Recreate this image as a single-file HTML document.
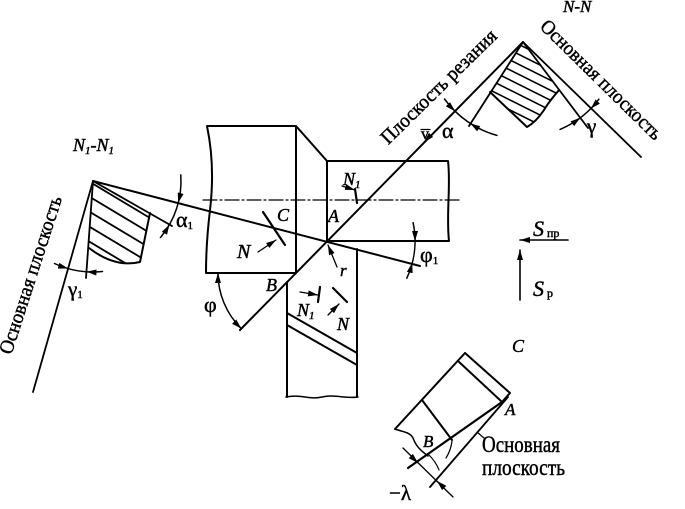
<!DOCTYPE html>
<html><head><meta charset="utf-8"><style>
html,body{margin:0;padding:0;background:#fff;}
svg{display:block;}
text{font-family:"Liberation Serif","DejaVu Serif",serif;fill:#000;stroke:#000;stroke-width:0.45;}
.i{font-style:italic;}
</style></head><body>
<svg width="685" height="509" viewBox="0 0 685 509" xmlns="http://www.w3.org/2000/svg">
<defs>
<marker id="ah" viewBox="0 0 10 6" refX="10" refY="3" markerWidth="10" markerHeight="6" markerUnits="userSpaceOnUse" orient="auto"><path d="M0,0 L10,3 L0,6 Z" fill="#000" stroke="none"/></marker>
<clipPath id="c1"><path d="M93,181 L150,213 L140,262 Q115,268 89,248 Z"/></clipPath>
<clipPath id="c2"><path d="M523,42 L559,90 Q548,103 544,110 Q536,122 527,127 L490,92 Z"/></clipPath>
</defs>
<g fill="none" stroke="#000" stroke-width="2" stroke-linecap="round" stroke-linejoin="round">
<path d="M207,126 C213,155 213,185 210,210 C207,235 206,255 206,273 L296,273 L296,126 Z"/>
<path d="M296,126 L327,161"/>
<path d="M327,161 L448,161 C451,185 446,215 449,241 L327,241 Z"/>
<path d="M203,200 L462,200" stroke-width="1.2" stroke-dasharray="14,3,2,3"/>
<path d="M287,282 L287,397 M357,249 L357,397"/>
<path d="M286,397 C300,394 310,400 322,397 C335,394 345,399 358,397" stroke-width="1.5"/>
<path d="M287,313 L357,353 M287,325 L357,365"/>
<path d="M240,330 L523,42"/>
<path d="M431,135 L424,142" marker-end="url(#ah)" stroke-width="1.2"/>
<path d="M421,129.5 L430,129.5" stroke-width="1.3"/>
<path d="M93,181 L420,266"/>

<path d="M93,181 L33,392" stroke-width="1.8"/>
<path d="M93,181 L86,278" stroke-width="1.8"/>
<path d="M93,181 L172,226" stroke-width="1.8"/>
<path d="M150,213 L140,262 Q115,268 89,248"/>
<g clip-path="url(#c1)" stroke-width="1.8">
<path d="M70,170 L170,230 M70,185 L170,245 M70,200 L170,260 M70,215 L170,275 M70,230 L170,290 M70,245 L170,305"/>
</g>
<path d="M180.8,174.9 A88,88 0 0 1 160.4,237.6" stroke-width="1.5"/>
<path d="M180.4,194.2 L178.2,202.9" marker-end="url(#ah)" stroke-width="1.2"/>
<path d="M164.9,232.4 L169.4,224.6" marker-end="url(#ah)" stroke-width="1.2"/>
<path d="M54.5,263.5 A91,91 0 0 0 102.5,271.5" stroke-width="1.5"/>
<path d="M59.4,266 L68.1,268.5" marker-end="url(#ah)" stroke-width="1.2"/>
<path d="M95.5,272.4 L86.5,271.8" marker-end="url(#ah)" stroke-width="1.2"/>

<path d="M218,273 A78,78 0 0 0 241.3,328.6" stroke-width="1.5"/>
<path d="M218,282 L218,273" marker-end="url(#ah)" stroke-width="1.2"/>
<path d="M234.9,322.3 L241.3,328.6" marker-end="url(#ah)" stroke-width="1.2"/>
<path d="M413.1,222.7 A88,88 0 0 1 406.8,278.2" stroke-width="1.5"/>
<path d="M415,232 L415,241" marker-end="url(#ah)" stroke-width="1.2"/>
<path d="M410,271.6 L412.2,262.9" marker-end="url(#ah)" stroke-width="1.2"/>

<path d="M263,212 L285,245" stroke-width="2.2"/>
<path d="M258,252 L276,240" marker-end="url(#ah)" stroke-width="1.3"/>
<path d="M342,186 L355,190" marker-end="url(#ah)" stroke-width="1.3"/>
<path d="M355,189 L357,203" stroke-width="2.2"/>
<path d="M300,292 L318,295" marker-end="url(#ah)" stroke-width="1.3"/>
<path d="M320,287 L318,302" stroke-width="2.2"/>
<path d="M333,288 L347,302" stroke-width="2.2"/>
<path d="M328,315 L339,304" marker-end="url(#ah)" stroke-width="1.3"/>
<path d="M337,267 L328,245" marker-end="url(#ah)" stroke-width="1.3"/>

<path d="M523,42 L469,126" stroke-width="1.8"/>
<path d="M523,42 L588,128" stroke-width="1.8"/>
<path d="M523,42 L641,157" stroke-width="1.8"/>
<path d="M559,90 Q548,103 544,110 Q536,122 527,127 L490,92"/>
<g clip-path="url(#c2)" stroke-width="1.6">
<path d="M470,20 L580,75 M470,30 L580,85 M470,40 L580,95 M470,50 L580,105 M470,60 L580,115 M470,70 L580,125 M470,80 L580,135 M470,90 L580,145 M470,100 L580,155 M470,110 L580,165"/>
</g>
<path d="M444.5,99 A97,97 0 0 0 496.9,135.4" stroke-width="1.5"/>
<path d="M448.6,104.9 L455,111.2" marker-end="url(#ah)" stroke-width="1.2"/>
<path d="M477.9,128.3 L470.3,123.4" marker-end="url(#ah)" stroke-width="1.2"/>
<path d="M560.1,129.4 A95,95 0 0 0 598.9,99.2" stroke-width="1.5"/>
<path d="M573.1,123.2 L580.3,117.8" marker-end="url(#ah)" stroke-width="1.2"/>
<path d="M597.1,102.2 L590.8,108.6" marker-end="url(#ah)" stroke-width="1.2"/>

<path d="M568,240 L520,240" marker-end="url(#ah)" stroke-width="1.6"/>
<path d="M520,300 L520,250" marker-end="url(#ah)" stroke-width="1.6"/>

<path d="M465,353 L395,429"/>
<path d="M465,353 L510,393 L502,402"/>
<path d="M458,361 L501,401"/>
<path d="M422,400 L452,440"/>
<path d="M395,429 C403,432 410,432 413,438 C416,446 420,450 428,456" stroke-width="1.5"/>
<path d="M502,402 L408,468" stroke-width="2.2"/>
<path d="M508,397 L430,487" stroke-width="1.8"/>
<path d="M477,432 L484,438" stroke-width="1.2"/>
<path d="M403,448 L453,497" stroke-width="1.3"/>
<path d="M411.5,456.7 L418,463" marker-end="url(#ah)" stroke-width="1.2"/>
<path d="M443.5,487.3 L437,481" marker-end="url(#ah)" stroke-width="1.2"/>
<path d="M452,441 Q451,450 446,458" stroke-width="1.2"/>
<path d="M429,455 Q436,462 439,470" stroke-width="1.2"/>
</g>

<text class="i" x="73" y="151" font-size="18">N<tspan font-size="11" dy="3">1</tspan><tspan dy="-3">-N</tspan><tspan font-size="11" dy="3">1</tspan></text>
<text class="i" x="563" y="12" font-size="17">N-N</text>
<text x="176" y="227" font-size="22">α<tspan font-size="11" dy="2">1</tspan></text>
<text x="68" y="296" font-size="21">γ<tspan font-size="11" dy="2">1</tspan></text>
<text class="i" x="277" y="221" font-size="18">C</text>
<text class="i" x="328" y="222" font-size="18">A</text>
<text class="i" x="237" y="258" font-size="20">N</text>
<text class="i" x="343" y="185" font-size="18">N<tspan font-size="11" dy="3">1</tspan></text>
<text x="420" y="262" font-size="22">φ<tspan font-size="11" dy="2">1</tspan></text>
<text class="i" x="340" y="276" font-size="17">r</text>
<text class="i" x="266" y="291" font-size="18">B</text>
<text x="204" y="312" font-size="22">φ</text>
<text class="i" x="297" y="316" font-size="18">N<tspan font-size="11" dy="3">1</tspan></text>
<text class="i" x="337" y="330" font-size="18">N</text>
<text x="442" y="138" font-size="22">α</text>
<text x="587" y="133" font-size="21">γ</text>
<text x="421" y="139" font-size="16">v</text>
<text class="i" x="533" y="236" font-size="22">S</text>
<text x="547" y="237" font-size="12">пр</text>
<text class="i" x="533" y="296" font-size="22">S</text>
<text x="547" y="297" font-size="12">р</text>
<text class="i" x="512" y="352" font-size="18">C</text>
<text class="i" x="505" y="415" font-size="17">A</text>
<text class="i" x="423" y="447" font-size="17">B</text>
<text x="482" y="452" font-size="23" textLength="78" lengthAdjust="spacingAndGlyphs">Основная</text>
<text x="482" y="475" font-size="23" textLength="83" lengthAdjust="spacingAndGlyphs">плоскость</text>
<text x="389" y="500" font-size="21">−λ</text>

<g transform="translate(439,87) rotate(-44.5)">
<text x="0" y="6" font-size="20" text-anchor="middle" textLength="154" lengthAdjust="spacingAndGlyphs">Плоскость резания</text>
</g>
<g transform="translate(601,80) rotate(44.5)">
<text x="0" y="6" font-size="20" text-anchor="middle" textLength="162" lengthAdjust="spacingAndGlyphs">Основная плоскость</text>
</g>
<g transform="translate(31,275) rotate(-72)">
<text x="0" y="6" font-size="20" text-anchor="middle" textLength="165" lengthAdjust="spacingAndGlyphs">Основная плоскость</text>
</g>
</svg>
</body></html>
